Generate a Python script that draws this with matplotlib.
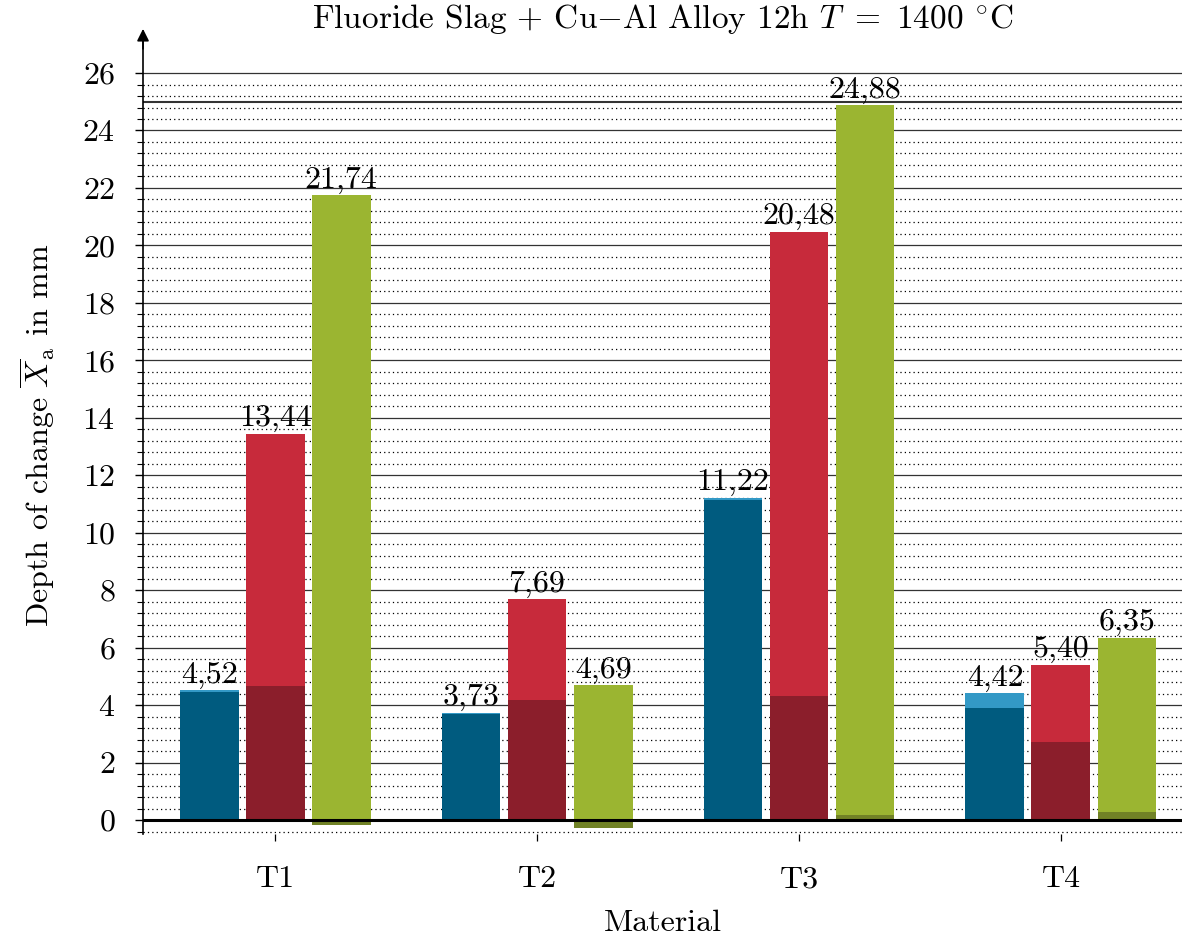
import numpy as np
import matplotlib
matplotlib.use('Agg')
import matplotlib.pyplot as plt
from matplotlib.ticker import FixedLocator

plt.rcParams['font.family'] = 'serif'
plt.rcParams['font.serif'] = ['cmr10', 'DejaVu Serif']
plt.rcParams['mathtext.fontset'] = 'cm'
plt.rcParams['axes.formatter.use_mathtext'] = True

materials = ['T1', 'T2', 'T3', 'T4']
blue_total = [4.52, 3.73, 11.22, 4.42]
blue_base = [4.47, 3.69, 11.15, 3.91]
red_total = [13.44, 7.69, 20.48, 5.40]
red_base = [4.66, 4.18, 4.32, 2.73]
green_total = [21.74, 4.69, 24.88, 6.35]
green_base = [-0.18, -0.27, 0.17, 0.28]

series = [
    (blue_total, blue_base, '#3399c6', '#005b7f'),
    (red_total, red_base, '#c72a3b', '#8b1e2b'),
    (green_total, green_base, '#9bb531', '#718226'),
]

FS = 23

fig = plt.figure(figsize=(11.82, 9.39), dpi=100)
ax = fig.add_axes([0.121, 0.112, 0.879, 0.850])

x = np.arange(len(materials))
w = 0.225
offs = [-0.252, 0.0, 0.252]

for (tot, base, light, dark), o in zip(series, offs):
    ax.bar(x + o, tot, w, color=light, zorder=3)
    ax.bar(x + o, base, w, color=dark, zorder=4)
    for xi, v in zip(x + o, tot):
        ax.text(xi, v + 0.05, f'{v:.2f}'.replace('.', ','), ha='center', va='bottom',
                fontsize=FS, zorder=5)

ax.set_xlim(-0.504, 3.462)
ax.set_ylim(-0.48, 27.3)

major = np.arange(0, 27, 2)
minor = [m for m in np.round(np.arange(-0.4, 26.0, 0.4), 1) if abs(m / 2 - round(m / 2)) > 1e-6]
ax.yaxis.set_major_locator(FixedLocator(major))
ax.yaxis.set_minor_locator(FixedLocator(minor))
for m in major:
    ax.axhline(m, color='#333333', lw=0.9, zorder=1)
for m in minor:
    ax.axhline(m, color='black', lw=0.9, ls=(0, (1, 2.5)), zorder=1)
ax.axhline(0, color='black', lw=2.2, zorder=6)
ax.axhline(25, color='#333333', lw=1.5, zorder=1)

for s in ['top', 'right', 'bottom']:
    ax.spines[s].set_visible(False)
ax.spines['left'].set_linewidth(1.2)
ax.annotate('', xy=(0, 1.012), xytext=(0, 0.98), xycoords='axes fraction',
            arrowprops=dict(arrowstyle='-|>', color='black', lw=1.2, mutation_scale=18))

ax.set_xticks(x)
ax.set_xticklabels(materials)
ax.tick_params(axis='x', direction='out', length=5, width=0.9, pad=18, labelsize=FS)
ax.tick_params(axis='y', which='major', direction='out', length=6, width=1, labelsize=FS, pad=14)
ax.tick_params(axis='y', which='minor', direction='out', length=4, width=0.8)

ax.set_xlabel('Material', fontsize=FS, labelpad=12)
ax.set_ylabel(r'Depth of change $\overline{X}_\mathrm{a}$ in mm', fontsize=FS, labelpad=18)
ax.set_title(r'Fluoride Slag + Cu$-$Al Alloy 12h $T\ =\ 1400$ $^{\circ}$C',
             fontsize=24, pad=4)

fig.savefig('out.png', dpi=100)
